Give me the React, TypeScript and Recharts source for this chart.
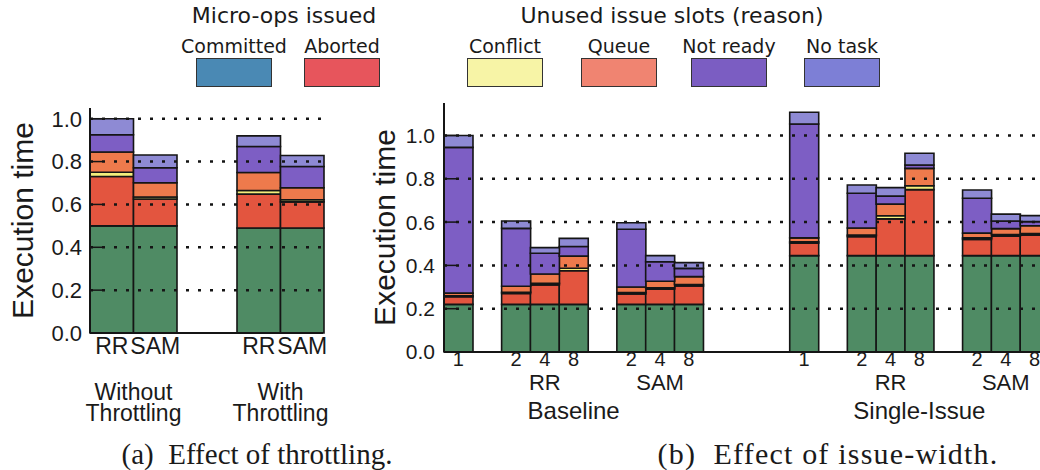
import { BarChart, Bar, XAxis, YAxis, ReferenceLine } from 'recharts';

const SANS = '"Liberation Sans", Arial, sans-serif';
const LEGEND_FONT = '"DejaVu Sans", sans-serif';
const SERIF = '"Liberation Serif", "Times New Roman", serif';

// (a) Effect of throttling: Without/RR, Without/SAM, With/RR, With/SAM
const THROTTLE_GROUPS = ['Without Throttling', 'With Throttling'];
const THROTTLE_POLICIES = ['RR', 'SAM'];
const thrCommitted = [0.5, 0.5, 0.49, 0.49];
const thrAborted = [0.23, 0.125, 0.158, 0.122];
const thrConflict = [0.02, 0.01, 0.017, 0.01];
const thrQueue = [0.095, 0.066, 0.084, 0.056];
const thrNotReady = [0.08, 0.07, 0.121, 0.099];
const thrNoTask = [0.075, 0.06, 0.05, 0.051];

// (b) Effect of issue-width: empty labels are spacer slots
const WIDTH_LABELS = ['1', '', '2', '4', '8', '', '2', '4', '8', '', '', '', '1', '', '2', '4', '8', '', '2', '4', '8'];
const POLICY_LABELS = ['', '', '', 'RR', '', '', '', 'SAM', '', '', '', '', '', '', '', 'RR', '', '', '', 'SAM', ''];
const MODE_LABELS = ['', '', '', '', 'Baseline', '', '', '', '', '', '', '', '', '', '', '', 'Single-Issue', '', '', '', ''];
const iwCommitted = [0.22, null, 0.22, 0.22, 0.22, null, 0.22, 0.22, 0.22, null, null, null, 0.445, null, 0.445, 0.445, 0.445, null, 0.445, 0.445, 0.445];
const iwAborted = [0.035, null, 0.05, 0.09, 0.155, null, 0.048, 0.07, 0.085, null, null, null, 0.058, null, 0.088, 0.17, 0.305, null, 0.075, 0.09, 0.095];
const iwConflict = [0.005, null, 0.006, 0.007, 0.012, null, 0.006, 0.006, 0.007, null, null, null, 0.006, null, 0.007, 0.014, 0.018, null, 0.007, 0.007, 0.007];
const iwQueue = [0.012, null, 0.028, 0.043, 0.056, null, 0.026, 0.031, 0.036, null, null, null, 0.018, null, 0.033, 0.054, 0.08, null, 0.022, 0.028, 0.036];
const iwNotReady = [0.673, null, 0.267, 0.096, 0.044, null, 0.267, 0.09, 0.038, null, null, null, 0.526, null, 0.16, 0.037, 0.016, null, 0.161, 0.035, 0.019];
const iwNoTask = [0.055, null, 0.034, 0.026, 0.038, null, 0.03, 0.028, 0.027, null, null, null, 0.054, null, 0.038, 0.039, 0.054, null, 0.038, 0.032, 0.028];

const Y_TICKS = [0, 0.2, 0.4, 0.6, 0.8, 1.0];

const SERIES = [
  { key: 'committed', fill: '#4f8b64' },
  { key: 'aborted', fill: '#e3553f' },
  { key: 'conflict', fill: '#f3ee7c' },
  { key: 'queue', fill: '#ee7a4c' },
  { key: 'notReady', fill: '#7d5ec4' },
  { key: 'noTask', fill: '#8e8ad4' },
];

const LEGEND_GROUPS = [
  { title: 'Micro-ops issued', cx: 284 },
  { title: 'Unused issue slots (reason)', cx: 672 },
];
const LEGEND_ITEMS = [
  { name: 'Committed', color: '#4a89b4', cx: 234 },
  { name: 'Aborted', color: '#e7555c', cx: 342 },
  { name: 'Conflict', color: '#f7f4a6', cx: 505 },
  { name: 'Queue', color: '#f08471', cx: 619 },
  { name: 'Not ready', color: '#7b5dc2', cx: 729 },
  { name: 'No task', color: '#7d7fd6', cx: 842 },
];

const thrSeries: Record<string, number[]> = {
  committed: thrCommitted, aborted: thrAborted, conflict: thrConflict,
  queue: thrQueue, notReady: thrNotReady, noTask: thrNoTask,
};
const iwSeries: Record<string, (number | null)[]> = {
  committed: iwCommitted, aborted: iwAborted, conflict: iwConflict,
  queue: iwQueue, notReady: iwNotReady, noTask: iwNoTask,
};

// one row per group, with one stack per policy
const throttleRows = THROTTLE_GROUPS.map((group, g) => {
  const row: Record<string, string | number> = { group };
  THROTTLE_POLICIES.forEach((p, k) => {
    SERIES.forEach((s) => {
      row[`${p}_${s.key}`] = thrSeries[s.key][g * 2 + k];
    });
  });
  return row;
});

const issueRows = WIDTH_LABELS.map((width, i) => {
  const row: Record<string, string | number | null> = {
    width, policy: POLICY_LABELS[i], mode: MODE_LABELS[i],
  };
  SERIES.forEach((s) => { row[s.key] = iwSeries[s.key][i]; });
  return row;
});

const BAR_A = 43.5;
const INK = '#151515';
const frameLine = { stroke: INK, strokeWidth: 2 };
const fmt = (v: number) => v.toFixed(1);

function ThrottleTick(props: any) {
  const { x, y, payload } = props;
  const [first, second] = String(payload.value).split(' ');
  return (
    <g fontFamily={SANS} fontSize={23} fill="#1a1a1a" textAnchor="middle">
      <text x={x - BAR_A / 2} y={y + 21}>{THROTTLE_POLICIES[0]}</text>
      <text x={x + BAR_A / 2} y={y + 21}>{THROTTLE_POLICIES[1]}</text>
      <text x={x} y={y + 67}>{first}</text>
      <text x={x} y={y + 88}>{second}</text>
    </g>
  );
}

function ThrottlingChart() {
  return (
    <BarChart width={360} height={470} data={throttleRows} barGap={0}
      margin={{ top: 108, right: 37, bottom: 37, left: 0 }}>
      <XAxis xAxisId="a1" dataKey="group" height={100} interval={0}
        padding={{ left: -30, right: -31 }} axisLine={frameLine}
        tickLine={false} tickSize={0} tickMargin={0} tick={<ThrottleTick />} />
      <XAxis xAxisId="z9" dataKey="group" orientation="top" height={0}
        padding={{ left: -30, right: -31 }} axisLine={frameLine} tickLine={false} tick={false} />
      <YAxis yAxisId="l" width={90} domain={[0, 1.05]} ticks={Y_TICKS} tickFormatter={fmt}
        axisLine={frameLine} tickLine={{ stroke: INK, strokeWidth: 1.5 }} tickSize={-12} tickMargin={20}
        tick={{ fontFamily: SANS, fontSize: 22, fill: '#1a1a1a' }}
        label={{ value: 'Execution time', angle: -90, position: 'insideLeft', offset: 22,
          style: { textAnchor: 'middle', fontFamily: SANS, fontSize: 30, fill: '#1a1a1a' } }} />
      <YAxis yAxisId="r" orientation="right" width={0} domain={[0, 1.05]} ticks={Y_TICKS}
        axisLine={frameLine} tickLine={{ stroke: INK, strokeWidth: 1.5 }} tickSize={-12} tick={false} />
      {THROTTLE_POLICIES.map((p) =>
        SERIES.map((s) => (
          <Bar key={`${p}_${s.key}`} xAxisId="a1" yAxisId="l" dataKey={`${p}_${s.key}`} stackId={p}
            barSize={BAR_A} fill={s.fill} stroke={INK} strokeWidth={1.6} isAnimationActive={false} />
        )))}
      {Y_TICKS.slice(1).map((t) => (
        <ReferenceLine key={t} xAxisId="a1" yAxisId="l" y={t} stroke={INK}
          strokeWidth={2.5} strokeDasharray="3 9" />
      ))}
    </BarChart>
  );
}

function IssueWidthChart() {
  const tickFont = { fontFamily: SANS, fill: '#1a1a1a' };
  return (
    <BarChart width={700} height={470} data={issueRows} barCategoryGap={0}
      margin={{ top: 103, right: 11, bottom: 38, left: 0 }}>
      <XAxis xAxisId="a1" dataKey="width" height={20} interval={0} axisLine={frameLine}
        tickLine={false} tickSize={0} tickMargin={0} tick={{ ...tickFont, fontSize: 20 }} />
      <XAxis xAxisId="a2" dataKey="policy" height={30} interval={0} axisLine={false}
        tickLine={false} tickSize={0} tickMargin={2} tick={{ ...tickFont, fontSize: 22 }} />
      <XAxis xAxisId="a3" dataKey="mode" height={30} interval={0} axisLine={false}
        tickLine={false} tickSize={0} tickMargin={0} tick={{ ...tickFont, fontSize: 24 }} />
      <XAxis xAxisId="z9" dataKey="width" orientation="top" height={0}
        axisLine={frameLine} tickLine={false} tick={false} />
      <YAxis width={84} domain={[0, 1.15]} ticks={Y_TICKS} tickFormatter={fmt}
        axisLine={frameLine} tickLine={{ stroke: INK, strokeWidth: 1.5 }} tickSize={-12} tickMargin={21}
        tick={{ ...tickFont, fontSize: 21 }}
        label={{ value: 'Execution time', angle: -90, position: 'insideLeft', offset: 24,
          style: { textAnchor: 'middle', fontFamily: SANS, fontSize: 30, fill: '#1a1a1a' } }} />
      {SERIES.map((s) => (
        <Bar key={s.key} xAxisId="a1" dataKey={s.key} stackId="iw" fill={s.fill}
          stroke={INK} strokeWidth={1.6} isAnimationActive={false} />
      ))}
      {Y_TICKS.slice(1).map((t) => (
        <ReferenceLine key={t} xAxisId="a1" y={t} stroke={INK}
          strokeWidth={2.5} strokeDasharray="3 9" />
      ))}
    </BarChart>
  );
}

function SeriesLegend() {
  return (
    <>
      {LEGEND_GROUPS.map((g) => (
        <div key={g.title} style={{
          position: 'absolute', top: 5, left: g.cx - 200, width: 400, textAlign: 'center',
          fontFamily: LEGEND_FONT, fontSize: 22, lineHeight: 1, color: '#1a1a1a',
        }}>{g.title}</div>
      ))}
      {LEGEND_ITEMS.map((it) => (
        <div key={it.name}>
          <div style={{
            position: 'absolute', top: 37, left: it.cx - 70, width: 140, textAlign: 'center',
            fontFamily: LEGEND_FONT, fontSize: 19, lineHeight: 1, color: '#1a1a1a',
          }}>{it.name}</div>
          <div style={{
            position: 'absolute', top: 58, left: it.cx - 38, width: 76, height: 29,
            boxSizing: 'border-box', border: '1.5px solid #333', background: it.color,
          }} />
        </div>
      ))}
    </>
  );
}

export default function App() {
  return (
    <div style={{
      position: 'absolute', left: 0, top: 0, width: 1040, height: 470,
      overflow: 'hidden', background: '#fff',
    }}>
      <div style={{ position: 'absolute', left: 0, top: 0 }}><ThrottlingChart /></div>
      <div style={{ position: 'absolute', left: 360, top: 0 }}><IssueWidthChart /></div>
      <SeriesLegend />
      <div style={{
        position: 'absolute', top: 440, left: 57, width: 400, textAlign: 'center',
        fontFamily: SERIF, fontSize: 29, lineHeight: 1, color: '#1a1a1a', whiteSpace: 'pre',
      }}>{'(a)  Effect of throttling.'}</div>
      <div style={{
        position: 'absolute', top: 439, left: 628, width: 400, textAlign: 'center',
        fontFamily: SERIF, fontSize: 30, lineHeight: 1, color: '#1a1a1a', whiteSpace: 'pre',
        letterSpacing: 1.2,
      }}>{'(b)  Effect of issue-width.'}</div>
    </div>
  );
}
